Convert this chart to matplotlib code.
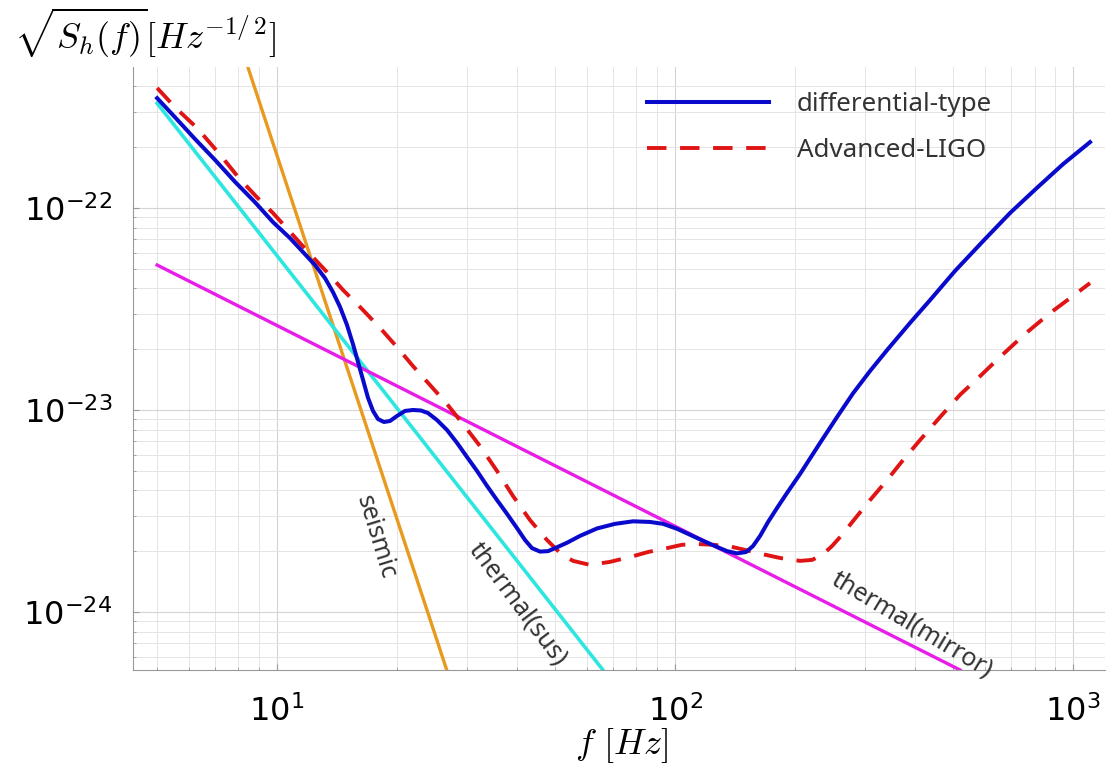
import matplotlib
matplotlib.use("Agg")
import matplotlib.pyplot as plt
from matplotlib.ticker import LogLocator, NullFormatter

# frequency [Hz] and strain noise [Hz^-1/2]
diff_f = [5.0, 5.54, 6.22, 6.99, 7.84, 8.80, 9.77, 10.78, 11.62, 12.46, 13.20,
          13.82, 14.40, 14.99, 15.52, 15.98, 16.45, 16.93, 17.43, 17.94, 18.57,
          19.23, 20.03, 20.97, 21.96, 23.00, 23.95, 25.23, 26.74, 28.34, 30.02,
          31.81, 33.70, 35.71, 37.84, 40.09, 42.00, 43.72, 45.80, 47.97, 50.51,
          53.52, 57.72, 63.68, 70.67, 78.44, 86.53, 93.29, 101.2, 109.1, 117.6,
          126.0, 135.1, 143.2, 150.8, 157.0, 163.6, 171.3, 180.4, 191.1, 206.1,
          231.4, 255.3, 280.1, 309.0, 341.0, 389.5, 437.2, 505.1, 594.2, 694.5,
          812.0, 943.9, 1103.0]
diff_h = [3.50e-22, 2.82e-22, 2.20e-22, 1.73e-22, 1.35e-22, 1.07e-22, 8.52e-23,
          7.10e-23, 6.06e-23, 5.22e-23, 4.50e-23, 3.84e-23, 3.24e-23, 2.64e-23,
          2.12e-23, 1.73e-23, 1.41e-23, 1.15e-23, 9.89e-24, 9.02e-24, 8.72e-24,
          8.82e-24, 9.34e-24, 9.89e-24, 1.00e-23, 9.94e-24, 9.66e-24, 8.92e-24,
          7.96e-24, 6.87e-24, 5.85e-24, 4.99e-24, 4.21e-24, 3.58e-24, 3.06e-24,
          2.60e-24, 2.27e-24, 2.07e-24, 1.99e-24, 2.00e-24, 2.09e-24, 2.20e-24,
          2.38e-24, 2.59e-24, 2.73e-24, 2.81e-24, 2.79e-24, 2.73e-24, 2.58e-24,
          2.41e-24, 2.25e-24, 2.12e-24, 2.00e-24, 1.95e-24, 1.98e-24, 2.12e-24,
          2.38e-24, 2.79e-24, 3.27e-24, 3.88e-24, 4.82e-24, 6.87e-24, 9.23e-24,
          1.21e-23, 1.56e-23, 1.98e-23, 2.70e-23, 3.50e-23, 4.88e-23, 6.86e-23,
          9.45e-23, 1.26e-22, 1.65e-22, 2.12e-22]

aligo_f = [5.0, 5.54, 6.30, 7.11, 8.07, 8.91, 9.77, 10.91, 12.10, 13.35, 14.65,
           16.36, 18.15, 20.02, 21.96, 24.23, 26.74, 29.33, 32.36, 35.71, 39.17,
           43.22, 47.69, 51.42, 55.42, 61.14, 68.66, 77.08, 85.54, 95.47, 104.1,
           113.6, 124.6, 137.4, 148.2, 160.7, 183.6, 206.1, 220.9, 234.0, 248.0,
           262.8, 280.1, 309.0, 341.0, 374.0, 412.7, 463.4, 520.2, 583.9, 655.3,
           757.5, 875.3, 982.9, 1103.0]
aligo_h = [3.93e-22, 3.16e-22, 2.49e-22, 1.89e-22, 1.39e-22, 1.13e-22, 9.45e-23,
           7.43e-23, 5.92e-23, 4.82e-23, 3.93e-23, 3.16e-23, 2.55e-23, 2.05e-23,
           1.65e-23, 1.33e-23, 1.07e-23, 8.52e-24, 6.63e-24, 4.99e-24, 3.75e-24,
           2.85e-24, 2.27e-24, 1.96e-24, 1.79e-24, 1.71e-24, 1.77e-24, 1.87e-24,
           1.98e-24, 2.07e-24, 2.15e-24, 2.17e-24, 2.15e-24, 2.11e-24, 2.04e-24,
           1.96e-24, 1.85e-24, 1.79e-24, 1.81e-24, 1.91e-24, 2.12e-24, 2.41e-24,
           2.82e-24, 3.58e-24, 4.50e-24, 5.65e-24, 7.10e-24, 9.23e-24, 1.19e-23,
           1.47e-23, 1.83e-23, 2.38e-23, 3.02e-23, 3.58e-23, 4.25e-23]

seismic_f = [8.47, 26.7]
seismic_h = [4.92e-22, 5.16e-25]
sus_f = [5.0, 65.9]
sus_h = [3.30e-22, 5.16e-25]
mirror_f = [5.0, 520.0]
mirror_h = [5.22e-23, 5.16e-25]

x_ticks = [10, 100, 1000]
y_ticks = [1e-24, 1e-23, 1e-22]

fig = plt.figure(figsize=(11.06, 7.74), dpi=100)
ax = fig.add_axes([0.1203, 0.1344, 0.8787, 0.779])
ax.set_xscale("log")
ax.set_yscale("log")

ax.plot(seismic_f, seismic_h, color="#e89a1e", lw=2.4)
ax.plot(sus_f, sus_h, color="#2ee6e0", lw=2.6)
ax.plot(mirror_f, mirror_h, color="#e81ee8", lw=2.4)
ax.plot(aligo_f, aligo_h, color="#e01414", lw=2.8, dashes=(5, 3.5),
        label="Advanced-LIGO")
ax.plot(diff_f, diff_h, color="#0a0acc", lw=2.9, label="differential-type")

ax.set_xlim(4.35, 1202)
ax.set_ylim(5.16e-25, 4.99e-22)
ax.set_xticks(x_ticks)
ax.set_yticks(y_ticks)

ax.xaxis.set_minor_locator(LogLocator(base=10, subs=range(2, 10), numticks=20))
ax.yaxis.set_minor_locator(LogLocator(base=10, subs=range(2, 10), numticks=20))
ax.xaxis.set_minor_formatter(NullFormatter())
ax.yaxis.set_minor_formatter(NullFormatter())
ax.grid(True, which="major", color="#d4d4d4", lw=0.8)
ax.grid(True, which="minor", color="#e4e4e4", lw=0.7)
ax.tick_params(which="both", direction="in", color="#999999", labelsize=23)
ax.tick_params(axis="x", which="major", length=4, pad=18)
ax.tick_params(axis="y", which="major", length=4, pad=15)
ax.tick_params(which="minor", length=2.5)
for s in ["top", "right"]:
    ax.spines[s].set_visible(False)
for s in ["left", "bottom"]:
    ax.spines[s].set_color("#999999")
    ax.spines[s].set_linewidth(0.8)

lab = dict(fontsize=18, color="#333333", family=["Noto Sans", "DejaVu Sans"],
           ha="center", va="center", rotation_mode="anchor")
ax.text(17.7, 2.35e-24, "seismic", rotation=-73, **lab)
ax.text(40.3, 1.10e-24, "thermal(sus)", rotation=-53, **lab)
ax.text(394, 8.63e-25, "thermal(mirror)", rotation=-31, **lab)

h, l = ax.get_legend_handles_labels()
ax.legend(h[::-1], l[::-1], loc="upper left", bbox_to_anchor=(0.505, 0.997),
          frameon=False, handlelength=4.7, handletextpad=1.05, labelspacing=0.8,
          prop={"family": ["Noto Sans", "DejaVu Sans"], "size": 18.7},
          labelcolor="#333333")

fig.text(0.013, 0.958, r"$\sqrt{S_h(f)}[Hz^{-1/\,2}]$", fontsize=26,
         math_fontfamily="cm", ha="left", va="center")
fig.text(0.562, 0.037, r"$f\ [Hz]$", fontsize=26, math_fontfamily="cm",
         ha="center", va="center")

fig.savefig("out.png", dpi=100)
